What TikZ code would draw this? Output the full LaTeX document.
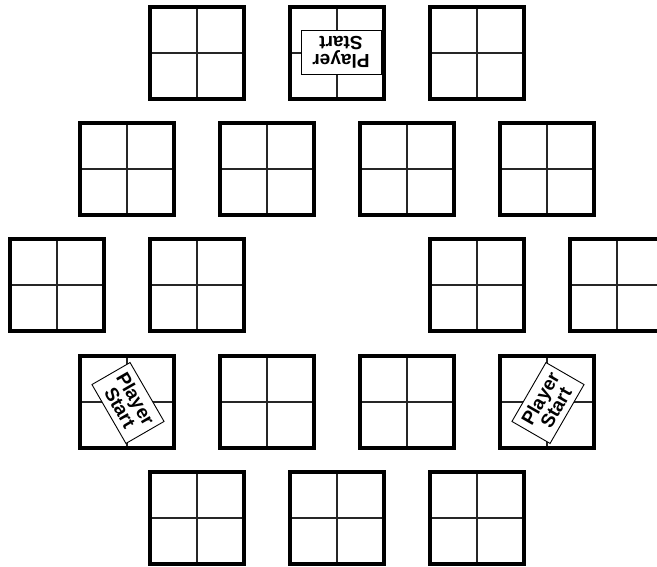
\documentclass[tikz,border=0pt]{standalone}
\usepackage{fontspec}
\setmainfont{Liberation Sans}
\begin{document}
\begin{tikzpicture}[x=1pt,y=-1pt,
  tile/.style={rectangle, draw=black, line width=4.5pt, line join=miter,
    minimum width=94pt, minimum height=92pt, inner sep=0pt,
    path picture={\draw[line width=1.4pt, black!85]
      (path picture bounding box.north) -- (path picture bounding box.south)
      (path picture bounding box.west) -- (path picture bounding box.east);}},
  startbox/.style={rectangle, draw=black, line width=0.9pt, fill=white,
    font=\bfseries\fontsize{19}{18}\selectfont, align=center,
    minimum width=68pt, minimum height=44pt, inner sep=1.5pt}]
\useasboundingbox (0,0) rectangle (657,567);
% row 1
\node[tile] (r1c1) at (197,53) {};
\node[tile] (r1c2) at (337,53) {};
\node[tile] (r1c3) at (477,53) {};
% row 2
\node[tile] (r2c1) at (127,169) {};
\node[tile] (r2c2) at (267,169) {};
\node[tile] (r2c3) at (407,169) {};
\node[tile] (r2c4) at (547,169) {};
% row 3
\node[tile] (r3c1) at (57,285) {};
\node[tile] (r3c2) at (197,285) {};
\node[tile] (r3c3) at (477,285) {};
\node[tile] (r3c4) at (617,285) {};
% row 4
\node[tile] (r4c1) at (127,402) {};
\node[tile] (r4c2) at (267,402) {};
\node[tile] (r4c3) at (407,402) {};
\node[tile] (r4c4) at (547,402) {};
% row 5
\node[tile] (r5c1) at (197,518) {};
\node[tile] (r5c2) at (337,518) {};
\node[tile] (r5c3) at (477,518) {};
% player starts
\node[startbox, rotate=180, minimum width=80pt] (ps1) at (341,52) {Player\\Start};
\node[startbox, rotate=-60] (ps2) at (128,403) {Player\\Start};
\node[startbox, rotate=60] (ps3) at (548,403) {Player\\Start};
\end{tikzpicture}
\end{document}
